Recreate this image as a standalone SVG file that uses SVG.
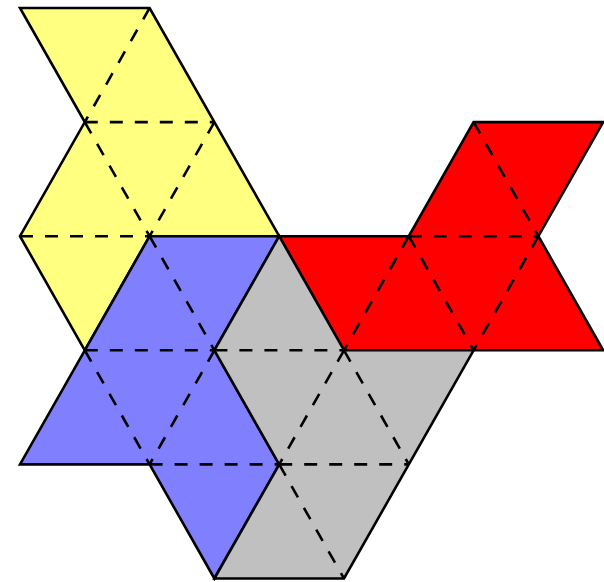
<svg xmlns="http://www.w3.org/2000/svg" width="604" height="582" viewBox="0 0 604 582">
<style>
.piece{stroke:#000;stroke-width:2.6;stroke-linejoin:miter}
.dash{stroke:#000;stroke-width:2.6;stroke-dasharray:13 12;fill:none}
.yellow{fill:#FFFF80}.red{fill:#FF0000}.blue{fill:#8080FF}.gray{fill:#C0C0C0}
</style>
<rect width="604" height="582" fill="#fff"/>
<g id="yellow">
<polygon class="yellow" points="20,8 149.6,8 279.2,236.2 149.6,236.2 84.8,350.3 20,236.2 84.8,122.1"/>
<path class="dash" d="M149.6,8L84.8,122.1M84.8,122.1H214.4M84.8,122.1L149.6,236.2M214.4,122.1L149.6,236.2M20,236.2H149.6"/>
<polygon class="piece" fill="none" points="20,8 149.6,8 279.2,236.2 149.6,236.2 84.8,350.3 20,236.2 84.8,122.1"/>
</g>
<g id="red">
<polygon class="red" points="473.6,122.1 603.2,122.1 538.4,236.2 603.2,350.3 344,350.3 279.2,236.2 408.8,236.2"/>
<path class="dash" d="M473.6,122.1L538.4,236.2M408.8,236.2H538.4M408.8,236.2L344,350.3M408.8,236.2L473.6,350.3M538.4,236.2L473.6,350.3"/>
<polygon class="piece" fill="none" points="473.6,122.1 603.2,122.1 538.4,236.2 603.2,350.3 344,350.3 279.2,236.2 408.8,236.2"/>
</g>
<g id="blue">
<polygon class="blue" points="149.6,236.2 279.2,236.2 214.4,350.3 279.2,464.4 214.4,578.5 149.6,464.4 20,464.4 84.8,350.3"/>
<path class="dash" d="M149.6,236.2L214.4,350.3M84.8,350.3H214.4M84.8,350.3L149.6,464.4M214.4,350.3L149.6,464.4M149.6,464.4H279.2"/>
<polygon class="piece" fill="none" points="149.6,236.2 279.2,236.2 214.4,350.3 279.2,464.4 214.4,578.5 149.6,464.4 20,464.4 84.8,350.3"/>
</g>
<g id="gray">
<polygon class="gray" points="279.2,236.2 344,350.3 473.6,350.3 408.8,464.4 344,578.5 214.4,578.5 279.2,464.4 214.4,350.3"/>
<path class="dash" d="M214.4,350.3H344M344,350.3L279.2,464.4M344,350.3L408.8,464.4M279.2,464.4H408.8M279.2,464.4L344,578.5"/>
<polygon class="piece" fill="none" points="279.2,236.2 344,350.3 473.6,350.3 408.8,464.4 344,578.5 214.4,578.5 279.2,464.4 214.4,350.3"/>
</g>
<g id="connectors"></g>
</svg>
